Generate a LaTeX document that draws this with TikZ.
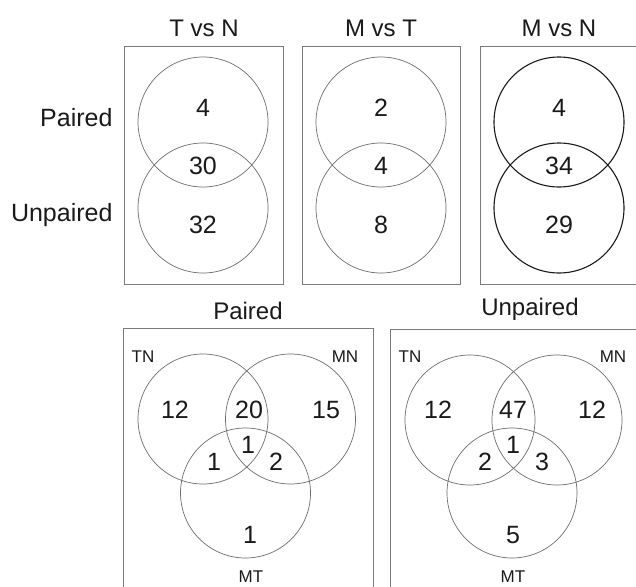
\documentclass[tikz,border=0pt]{standalone}
\usepackage{fontspec}
\setmainfont{Liberation Sans}
\usetikzlibrary{positioning}
\definecolor{frame}{HTML}{7A7A7A}
\definecolor{ring}{HTML}{6E6E6E}
\definecolor{ink}{HTML}{1A1A1A}
\tikzset{
  every node/.style={text=ink},
  panel/.style={draw=frame, line width=1pt, inner sep=0pt},
  venn/.style={circle, draw=ring, line width=0.7pt, minimum size=130pt, inner sep=0pt},
  vennbold/.style={venn, draw=ink, line width=1.1pt},
  head/.style={font=\fontsize{24}{28}\selectfont},
  rowlbl/.style={font=\fontsize{25}{29}\selectfont, anchor=east},
  count/.style={font=\fontsize{25}{28}\selectfont, inner sep=0pt},
  setlbl/.style={font=\fontsize{17}{20}\selectfont, inner sep=0pt},
}
\begin{document}
\begin{tikzpicture}[x=1pt, y=-1pt]
  \clip (0,0) rectangle (636,586);
  \fill[white] (0,0) rectangle (636,586);

  % ---- top row: pairwise comparisons -------------------------------------
  \node[panel, minimum width=159pt, minimum height=237pt] (boxtn) at (203.5,165.5) {};
  \node[panel, minimum width=158pt, minimum height=237pt] (boxmt) at (381,165.5) {};
  \node[panel, minimum width=158pt, minimum height=237pt] (boxmn) at (559,165.5) {};

  \node[head] (htn) at (204,28) {T vs N};
  \node[head] (hmt) at (381,28) {M vs T};
  \node[head] (hmn) at (559,28) {M vs N};

  \node[rowlbl] (lpair) at (116,118) {Paired};
  \node[rowlbl] (lunpair) at (116,215) {Unpaired};

  \node[venn] (tnp) at (203,122) {};
  \node[venn] (tnu) at (203,208) {};
  \node[venn] (mtp) at (381,122) {};
  \node[venn] (mtu) at (381,208) {};
  \node[vennbold] (mnp) at (559,122) {};
  \node[vennbold] (mnu) at (559,208) {};

  \node[count] (ctn1) at (203,108) {4};
  \node[count] (ctn2) at (203,166) {30};
  \node[count] (ctn3) at (203,225) {32};
  \node[count] (cmt1) at (381,108) {2};
  \node[count] (cmt2) at (381,166) {4};
  \node[count] (cmt3) at (381,225) {8};
  \node[count] (cmn1) at (559,108) {4};
  \node[count] (cmn2) at (559,166) {34};
  \node[count] (cmn3) at (559,225) {29};

  % ---- bottom row: three-way overlaps -------------------------------------
  \node[panel, minimum width=250pt, minimum height=280pt] (boxp) at (248,468) {};
  \node[panel, minimum width=250pt, minimum height=280pt] (boxu) at (515,469) {};

  \node[head] (hp) at (248,311) {Paired};
  \node[head] (hu) at (530,309) {Unpaired};

  % paired
  \node[venn] (ptn) at (203,419) {};
  \node[venn] (pmn) at (290.5,419) {};
  \node[venn] (pmt) at (245.5,493) {};
  \node[setlbl] (lptn) at (143,357) {TN};
  \node[setlbl] (lpmn) at (345,357) {MN};
  \node[setlbl] (lpmt) at (251,577) {MT};
  \node[count] (p1) at (175,410) {12};
  \node[count] (p2) at (249,410) {20};
  \node[count] (p3) at (326,410) {15};
  \node[count] (p4) at (248,445) {1};
  \node[count] (p5) at (214,462) {1};
  \node[count] (p6) at (276,462) {2};
  \node[count] (p7) at (250,535) {1};

  % unpaired
  \node[venn] (utn) at (470,420) {};
  \node[venn] (umn) at (557,420) {};
  \node[venn] (umt) at (512,493) {};
  \node[setlbl] (lutn) at (410,357) {TN};
  \node[setlbl] (lumn) at (613,357) {MN};
  \node[setlbl] (lumt) at (513,577) {MT};
  \node[count] (u1) at (438,410) {12};
  \node[count] (u2) at (513,410) {47};
  \node[count] (u3) at (592,410) {12};
  \node[count] (u4) at (513,445) {1};
  \node[count] (u5) at (485,462) {2};
  \node[count] (u6) at (542,462) {3};
  \node[count] (u7) at (513,535) {5};
\end{tikzpicture}
\end{document}
